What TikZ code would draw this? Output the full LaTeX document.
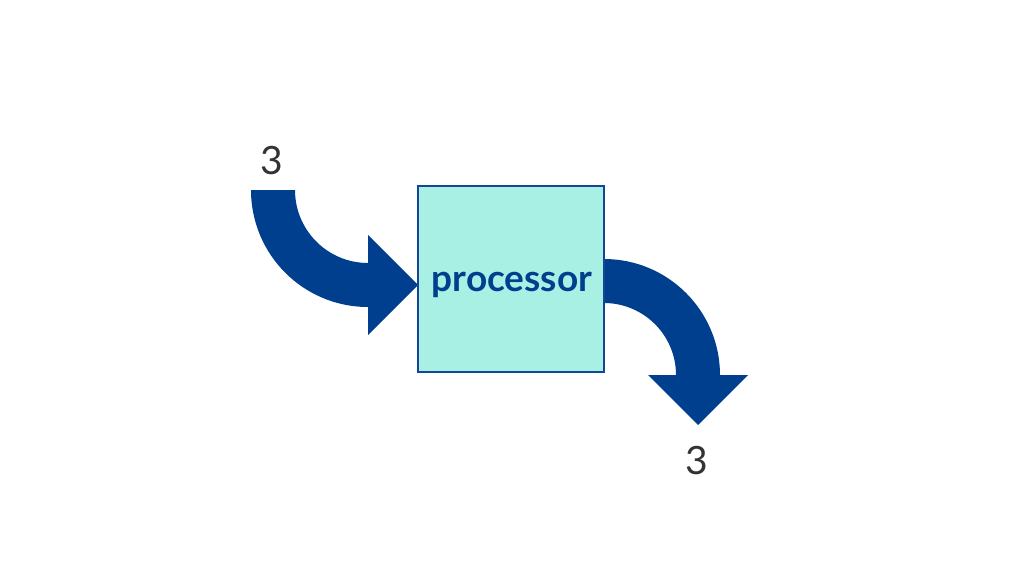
\documentclass[tikz,border=0pt]{standalone}
\usepackage{fontspec}
\setmainfont{Lato}
\usetikzlibrary{positioning}

\definecolor{arrowblue}{RGB}{0,63,142}
\definecolor{boxaqua}{RGB}{168,240,228}
\definecolor{boxedge}{RGB}{20,70,150}
\definecolor{labelgray}{RGB}{51,51,51}

\begin{document}
\begin{tikzpicture}[x=1pt,y=-1pt,
  procbox/.style={draw=boxedge,line width=1.5pt,fill=boxaqua,minimum size=186pt,inner sep=0pt},
  proctext/.style={font=\fontsize{37}{37}\selectfont\bfseries,text=arrowblue,inner sep=0pt,anchor=base},
  countlabel/.style={font=\fontsize{39}{39}\selectfont,text=labelgray,inner sep=0pt}]

\useasboundingbox (0,0) rectangle (1024,576);

%draws the incoming curved arrow
\fill[arrowblue] (251,190) arc[start angle=180,end angle=90,radius=117] -- (368,335) -- (418,285)
  -- (368,235) -- (368,263) arc[start angle=90,end angle=180,radius=73] -- cycle;

%draws the outgoing curved arrow
\fill[arrowblue] (604,259) arc[start angle=-90,end angle=0,radius=116] -- (748,375) -- (698,425)
  -- (648,375) -- (676,375) arc[start angle=0,end angle=-90,radius=72] -- cycle;

%draws the processor box
\node[procbox] (proc) at (511,279) {};
\node[proctext] (proclabel) at (512,291) {processor};

%creates the labels
\node[countlabel] (inlabel) at (272,161) {3};
\node[countlabel] (outlabel) at (697,461) {3};

\end{tikzpicture}
\end{document}
